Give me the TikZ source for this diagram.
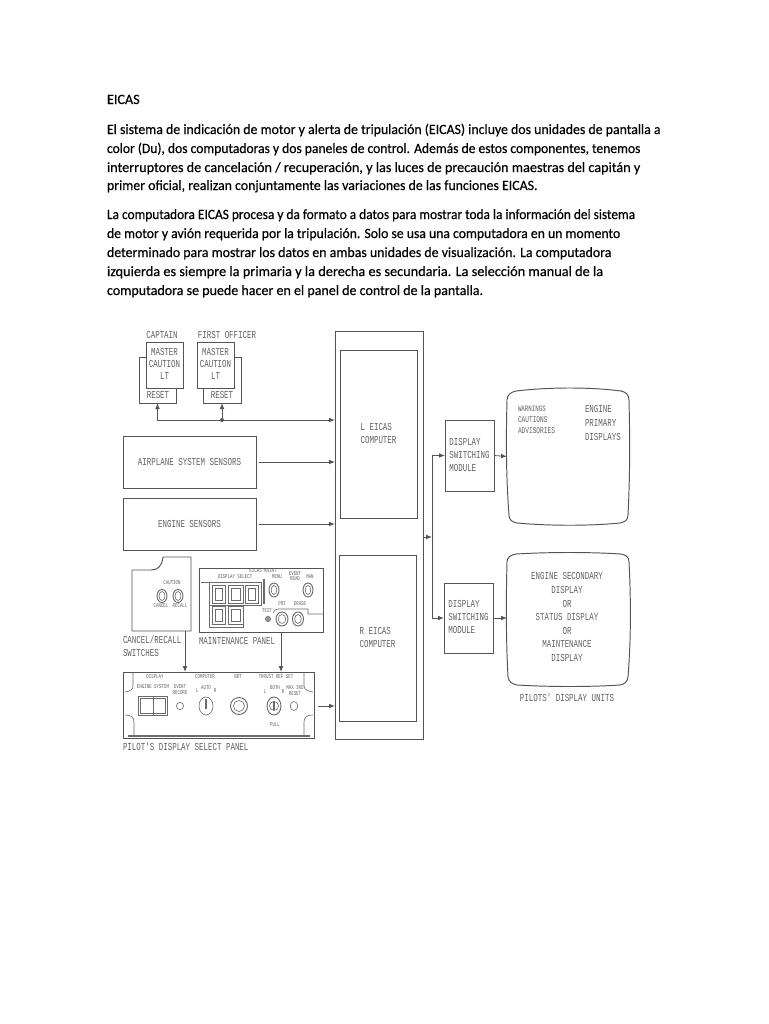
\documentclass[tikz,border=0pt]{standalone}
\usepackage{fontspec}
\usepackage{graphicx}
\setmainfont{Carlito}[FakeBold=0.4]
\newfontfamily\dmono{Liberation Mono}
\usetikzlibrary{arrows.meta}
\definecolor{ink}{gray}{0.33}
\definecolor{txt}{gray}{0.38}
\definecolor{fine}{gray}{0.42}
\newcommand\dlines[3]{\scalebox{0.7}[1]{\fontsize{8}{#2}\dmono\selectfont\begin{tabular}{@{}#1@{}}#3\end{tabular}}}
\newcommand\dl[1]{\scalebox{0.7}[1]{\fontsize{8}{9}\dmono\selectfont #1}}
\newcommand\dt[1]{\scalebox{0.7}[1]{\fontsize{4.4}{5}\dmono\selectfont #1}}
\newcommand\bline[2]{\scalebox{#1}[1]{#2}}
\tikzset{
 x=0.75pt,y=-0.75pt,
 body/.style={anchor=base west,inner sep=0pt,outer sep=0pt,font=\fontsize{10.6}{12}\selectfont,text=black},
 boxat/.style n args={4}{at={({(#1+#3)/2},{(#2+#4)/2})},minimum width={(#3-#1)*0.75pt},minimum height={(#4-#2)*0.75pt}},
 box/.style={draw=ink,line width=0.72pt,inner sep=0pt,outer sep=0pt,text=txt,fill=white},
 lab/.style={inner sep=0pt,outer sep=0pt,text=txt},
 link/.style={draw=ink,line width=0.6pt},
 arr/.style={link,-{Latex[length=4.5pt,width=3.5pt]}},
 det/.style={draw=fine,line width=0.45pt},
 dot/.style={circle,fill=ink,inner sep=0pt,minimum size=3pt},
}
\begin{document}
\begin{tikzpicture}
\useasboundingbox[fill=white] (0,0) rectangle (768,1024);
% text
\node[body] (t0) at (107,104) {EICAS};
\node[body] (t1) at (107,134) {\bline{.979}{El sistema de indicación de motor y alerta de tripulación (EICAS) incluye dos unidades de pantalla a}};
\node[body] (t2) at (107,153) {\bline{.960}{color (Du), dos computadoras y dos paneles de control. Además de estos componentes, tenemos}};
\node[body] (t3) at (107,172) {\bline{1.005}{interruptores de cancelación / recuperación, y las luces de precaución maestras del capitán y}};
\node[body] (t4) at (107,190) {\bline{.98}{primer oficial, realizan conjuntamente las variaciones de las funciones EICAS.}};
\node[body] (t5) at (107,219) {\bline{.946}{La computadora EICAS procesa y da formato a datos para mostrar toda la información del sistema}};
\node[body] (t6) at (107,238) {\bline{.97}{de motor y avión requerida por la tripulación. Solo se usa una computadora en un momento}};
\node[body] (t7) at (107,257) {\bline{.982}{determinado para mostrar los datos en ambas unidades de visualización. La computadora}};
\node[body] (t8) at (107,276) {\bline{1.012}{izquierda es siempre la primaria y la derecha es secundaria. La selección manual de la}};
\node[body] (t9) at (107,295) {\bline{.992}{computadora se puede hacer en el panel de control de la pantalla.}};
% master caution
\node[box,boxat={139}{357}{176}{403}] (rs1) {};
\node[box,boxat={203}{357}{241}{403}] (rs2) {};
\node[box,boxat={146}{342}{183}{388}] (mc1) {\dlines{c}{9}{MASTER\\CAUTION\\LT}};
\node[box,boxat={197}{342}{234}{388}] (mc2) {\dlines{c}{9}{MASTER\\CAUTION\\LT}};
\node[lab] (cap) at (162,335) {\dl{CAPTAIN}};
\node[lab] (fo) at (227,335) {\dl{FIRST OFFICER}};
\node[lab] (rt1) at (158,395) {\dl{RESET}};
\node[lab] (rt2) at (222,395) {\dl{RESET}};
% sensors
\node[box,boxat={123}{436}{256}{488}] (air) {\dl{AIRPLANE SYSTEM SENSORS}};
\node[box,boxat={123}{498}{256}{550}] (eng) {\dl{ENGINE SENSORS}};
% computers
\node[box,boxat={335}{331}{423}{739}] (outer) {};
\node[box,boxat={340}{350}{417}{518}] (lc) {\dlines{l}{9.7}{L EICAS\\COMPUTER}};
\node[box,boxat={339}{555}{416}{721}] (rc) {\dlines{l}{9.7}{R EICAS\\COMPUTER}};
% modules
\node[box,boxat={445}{420}{494}{491}] (m1) {\dlines{l}{9.75}{DISPLAY\\SWITCHING\\MODULE}};
\node[box,boxat={444}{583}{493}{653}] (m2) {\dlines{l}{9.75}{DISPLAY\\SWITCHING\\MODULE}};
% screens
\node[inner sep=0pt,outer sep=0pt,boxat={507}{388}{629}{525}] (s1) {};
\node[inner sep=0pt,outer sep=0pt,boxat={507}{553}{629}{686}] (s2) {};
\draw[box,fill=none] (516,391) .. controls (550,387) and (590,387) .. (621,391) .. controls (626,392) and (629,395) .. (629,400)
  .. controls (630,440) and (630,475) .. (628,515) .. controls (628,520) and (625,522) .. (620,523)
  .. controls (590,526) and (550,526) .. (517,523) .. controls (512,522) and (509,520) .. (509,515)
  .. controls (506,475) and (506,440) .. (507,400) .. controls (507,395) and (511,392) .. (516,391) -- cycle;
\draw[box,fill=none] (516,554) .. controls (550,552) and (590,552) .. (621,554) .. controls (626,555) and (629,557) .. (629,562)
  .. controls (631,600) and (631,640) .. (628,677) .. controls (627,682) and (625,684) .. (620,685)
  .. controls (590,687) and (550,687) .. (517,685) .. controls (512,684) and (509,682) .. (508,677)
  .. controls (506,640) and (506,600) .. (507,562) .. controls (507,557) and (511,555) .. (516,554) -- cycle;
\node[lab,anchor=north west] (w1) at (518,403) {\dlines{l}{8.6}{\fontsize{6.2}{8.6}\selectfont WARNINGS\\\fontsize{6.6}{8.6}\selectfont CAUTIONS\\\fontsize{6.6}{8.6}\selectfont ADVISORIES}};
\node[lab,anchor=north west] (w2) at (585,403) {\dlines{l}{10.4}{ENGINE\\PRIMARY\\DISPLAYS}};
\node[lab] (w3) at (567,618) {\dlines{c}{10.2}{ENGINE SECONDARY\\DISPLAY\\OR\\STATUS DISPLAY\\OR\\MAINTENANCE\\DISPLAY}};
\node[lab] (w4) at (567,698) {\dl{PILOTS' DISPLAY UNITS}};
% cancel panel
\coordinate (cn) at (185,631);
\draw[box,fill=none] (132,570) -- (151,570) .. controls (158,570) and (162,566) .. (163,557) -- (191,557) -- (191,631) -- (132,631) -- cycle;
\node[lab] (c1) at (172,583) {\dt{CAUTION}};
\node[lab] (c2) at (161,606) {\dt{CANCEL}};
\node[lab] (c3) at (180,606) {\dt{RECALL}};
\draw[det,line width=0.7pt] (162,596) ellipse [x radius=5,y radius=6.5];
\draw[det] (162,596) ellipse [x radius=3,y radius=4.5];
\draw[det,line width=0.7pt] (178,596) ellipse [x radius=5,y radius=6.5];
\draw[det] (178,596) ellipse [x radius=3,y radius=4.5];
\node[lab,anchor=west] (c4) at (123,640) {\dl{CANCEL/RECALL}};
\node[lab,anchor=west] (c5) at (123,653) {\dl{SWITCHES}};
% maintenance panel
\node[box,boxat={199}{568}{323}{632}] (mp) {};
\node[lab,anchor=west] (mpl) at (199,641) {\dl{MAINTENANCE PANEL}};
\node[lab] (p1) at (263,571) {\dt{EICAS MAINT}};
\node[lab] (p2) at (235,577) {\dt{DISPLAY SELECT}};
\node[lab] (p3) at (277,577) {\dt{MENU}};
\node[lab] (p4) at (295,574) {\dt{EVENT}};
\node[lab] (p5) at (295,579) {\dt{READ}};
\node[lab] (p6) at (310,577) {\dt{MAN}};
\node[lab] (p7) at (282,604) {\dt{PRI}};
\node[lab] (p8) at (300,604) {\dt{ERASE}};
\node[lab] (p9) at (267,611) {\dt{TEST}};
\draw[det] (201,582) -- (209,582);
\draw[det] (209,582) rectangle (261,605);
\draw[det] (209,605) rectangle (243,627);
\foreach \a/\b/\c/\d in {212/585/225/603,228/585/243/603,245/585/258/603,212/606/225/624,228/606/243/624}{
  \draw[det,line width=0.6pt] (\a,\b) rectangle (\c,\d);
  \draw[det,line width=0.3pt] ({\a+3},{\b+3}) rectangle ({\c-3},{\d-3});}
\draw[det,line width=1pt] (264,579) -- (264,604);
\foreach \px/\py/\rx/\ry in {274/590/5/7,308/590/5/7,282/619/6/7,298/619/5.5/7}{
  \draw[det,line width=0.7pt] (\px,\py) ellipse [x radius=\rx,y radius=\ry];
  \draw[det] (\px,\py) ellipse [x radius={\rx-2.2},y radius={\ry-2.5}];}
\draw[det,fill=fine!70] (268,619) circle [radius=2.6];
\draw[det] (273,613) .. controls (274,610) and (276,609) .. (278,609) -- (308,609) -- (308,614) -- (323,614);
% select panel
\node[box,boxat={123}{672}{314}{738}] (sp) {};
\draw[det,line width=0.9pt] (128,736) -- (310,736);
\draw[det] (133,673) -- (133,686) .. controls (133,690) and (130,691) .. (125,692);
\draw[det] (125,715) .. controls (131,715) and (134,717) .. (134,722) -- (134,737);
\draw[det] (304,673) -- (304,686) .. controls (304,690) and (308,691) .. (313,692);
\draw[det] (313,715) .. controls (307,715) and (304,717) .. (304,722) -- (304,737);
\node[lab] (d1) at (155,677) {\dt{DISPLAY}};
\node[lab] (d2) at (153,687) {\dt{ENGINE SYSTEM}};
\node[lab] (d3) at (180,687) {\dt{EVENT}};
\node[lab] (d4) at (180,693) {\dt{RECORD}};
\node[lab] (d5) at (205,677) {\dt{COMPUTER}};
\node[lab] (d6) at (206,688) {\dt{AUTO}};
\node[lab] (d7) at (197,691) {\dt{L}};
\node[lab] (d8) at (215,691) {\dt{R}};
\node[lab] (d9) at (238,677) {\dt{BRT}};
\node[lab] (d10) at (276,677) {\dt{THRUST REF SET}};
\node[lab] (d11) at (275,688) {\dt{BOTH}};
\node[lab] (d12) at (265,692) {\dt{L}};
\node[lab] (d13) at (283,692) {\dt{R}};
\node[lab] (d14) at (295,688) {\dt{MAX IND}};
\node[lab] (d15) at (295,694) {\dt{RESET}};
\node[lab] (d16) at (275,725) {\dt{PULL}};
\draw[det,line width=0.7pt] (138,696) rectangle (167,715);
\draw[det,line width=0.3pt] (140,698) rectangle (165,713);
\draw[det,line width=0.7pt] (153,696) -- (153,715);
\draw[det] (180,706) circle [radius=3.6];
\draw[det] (206,706) ellipse [x radius=7,y radius=9];
\draw[det,line width=1.2pt] (206,699) -- (206,709);
\draw[det,line width=0.7pt] (239,706) circle [radius=8.5];
\draw[det] (239,706) circle [radius=5.5];
\draw[det,line width=0.7pt] (274,706) ellipse [x radius=7,y radius=9];
\draw[det] (274,706) circle [radius=4.5];
\draw[det,line width=1pt] (274,701) -- (274,710);
\draw[det] (294,706) ellipse [x radius=3.8,y radius=4.5];
\node[lab] (sl) at (123,747) [anchor=west] {\dl{PILOT'S DISPLAY SELECT PANEL}};
% connectors
\coordinate (j1) at (222,420);
\coordinate (j2) at (432,537);
\draw[arr] (j1) -- (rs2.south);
\draw[arr] (j1) -| (rs1.south);
\draw[arr] (j1) -- (outer.west |- j1);
\node[dot] (jd1) at (j1) {};
\draw[arr,shorten <=2pt] (air.east) -- (outer.west |- air.east);
\draw[arr,shorten <=2pt] (eng.east) -- (outer.west |- eng.east);
\draw[arr] (cn) -- (cn |- sp.north);
\draw[arr] (mp.south -| 281,0) -- (281,672);
\draw[arr,shorten <=3pt] (sp.east |- 0,706) -- (outer.west |- 0,706);
\draw[arr] (outer.east |- j2) -- (j2);
\draw[arr] (j2) |- (m1.west);
\draw[arr] (j2) |- (m2.west);
\draw[arr] (m1.east) -- (s1.west);
\draw[arr] (m2.east) -- (s2.west |- m2.east);
\end{tikzpicture}
\end{document}
